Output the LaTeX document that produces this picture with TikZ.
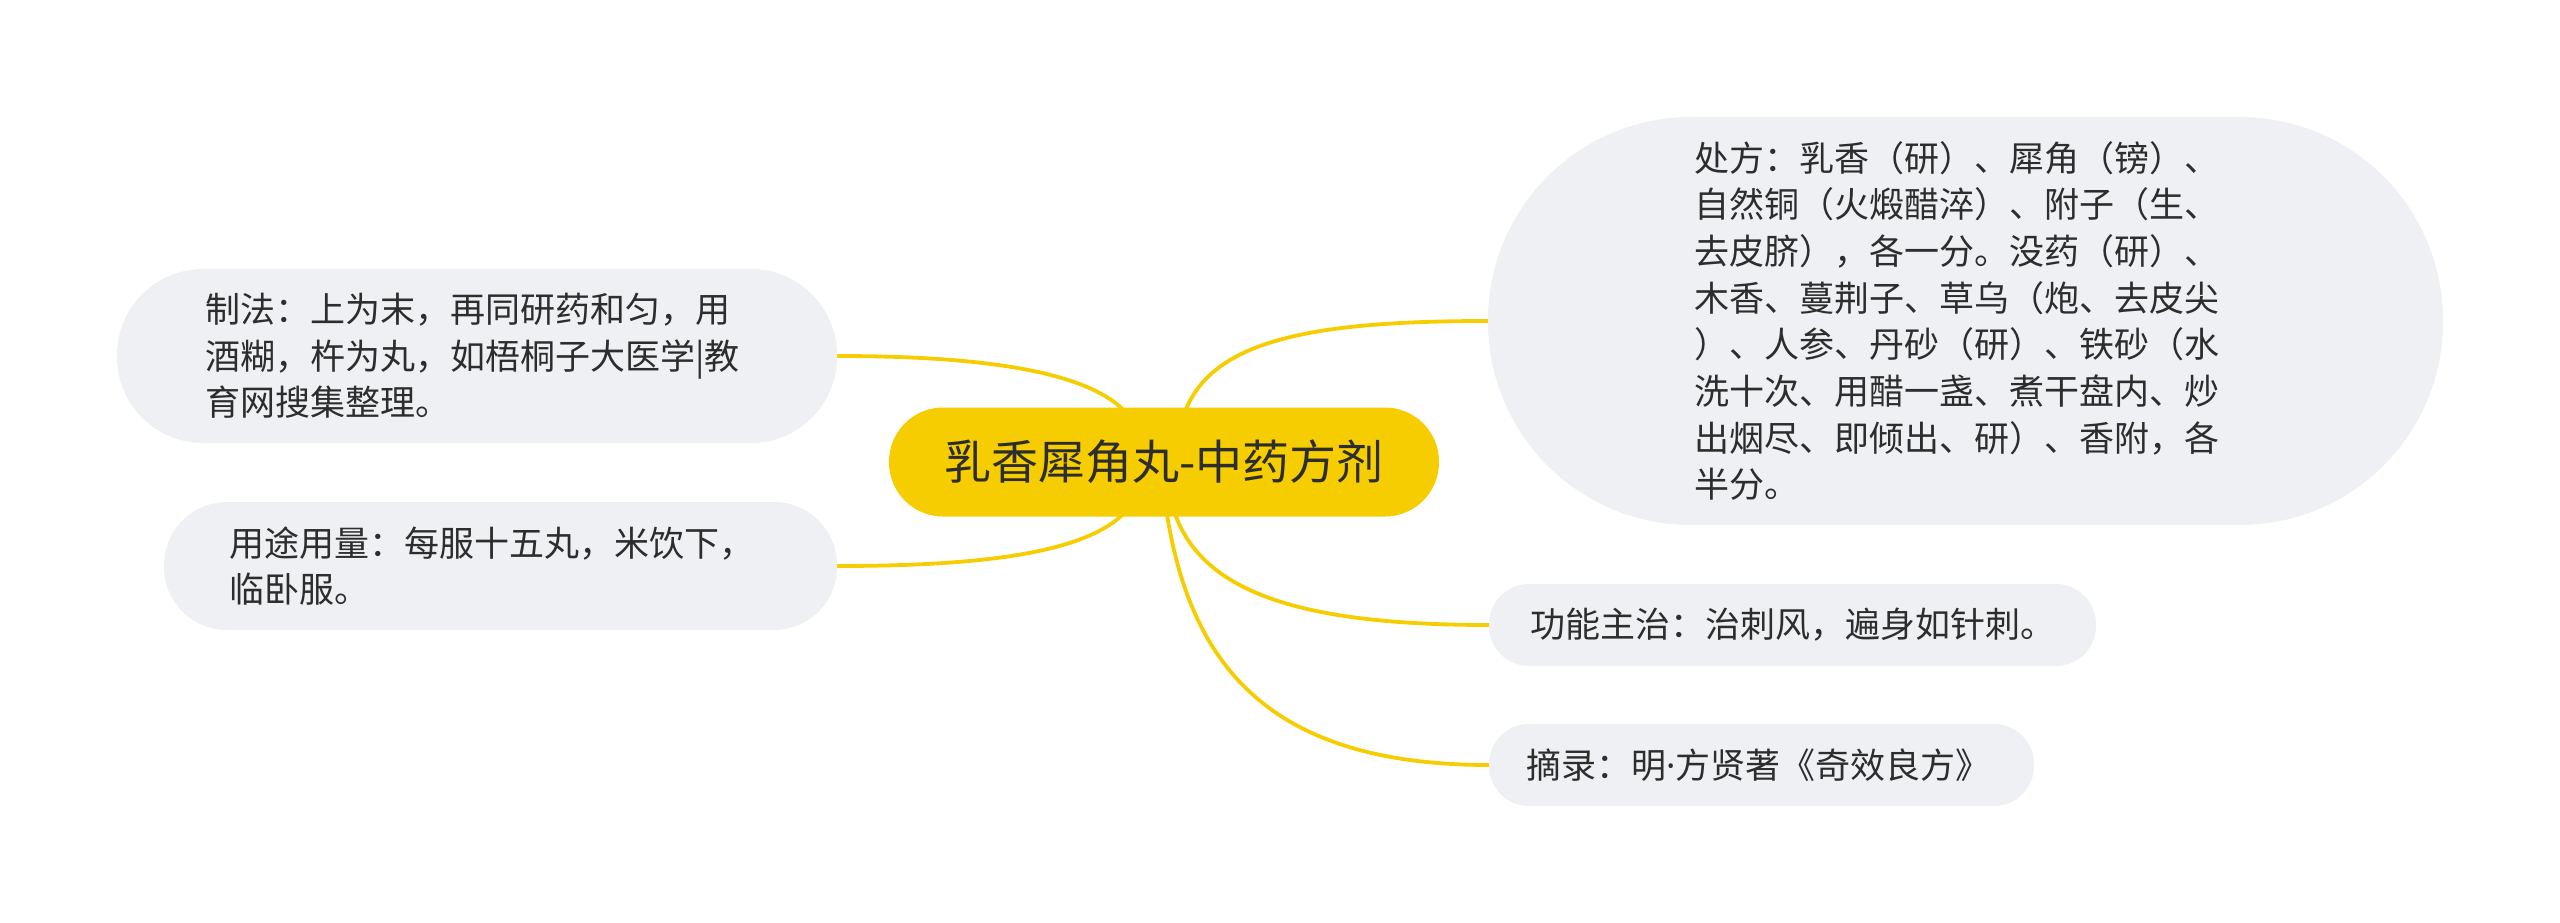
\documentclass[tikz,border=0pt]{standalone}
\usepackage{fontspec}
\setmainfont{Noto Sans CJK SC}
\newfontfamily\latinfont{Noto Sans}
\usetikzlibrary{backgrounds}
\definecolor{nodefill}{RGB}{238,240,243}
\definecolor{mainyellow}{RGB}{245,205,0}
\definecolor{txt}{RGB}{45,45,45}
\begin{document}
\begin{tikzpicture}[x=1pt,y=-1pt,
  leaf/.style={fill=nodefill, inner sep=0pt, align=left, text=txt, font=\fontsize{35}{46.7}\selectfont},
  conn/.style={draw=mainyellow, line width=3.8pt}]
\useasboundingbox (0,0) rectangle (2560,923);
\node[fill=mainyellow, minimum width=550pt, minimum height=109pt, rounded corners=54pt, inner sep=0pt, text=txt, font=\fontsize{47}{56}\selectfont] (c) at (1164,462) {乳香犀角丸-中药方剂};
\node[leaf, minimum width=720pt, minimum height=174pt, rounded corners=86pt, text width=544pt] (zf) at (477,356) {制法：上为末，再同研药和匀，用\\酒糊，杵为丸，如梧桐子大医学|教\\育网搜集整理。};
\node[leaf, minimum width=673pt, minimum height=128pt, rounded corners=63pt, text width=543pt] (yt) at (500.5,566) {用途用量：每服十五丸，米饮下，\\临卧服。};
\node[leaf, minimum width=955pt, minimum height=408pt, rounded corners=203pt, text width=543pt] (cf) at (1965.5,321) {处方：乳香（研）、犀角（镑）、\\自然铜（火煅醋淬）、附子（生、\\去皮脐），各一分。没药（研）、\\木香、蔓荆子、草乌（炮、去皮尖\\）、人参、丹砂（研）、铁砂（水\\洗十次、用醋一盏、煮干盘内、炒\\出烟尽、即倾出、研）、香附，各\\半分。};
\node[leaf, minimum width=607pt, minimum height=82pt, rounded corners=40pt, text width=525pt] (gn) at (1792.5,625) {功能主治：治刺风，遍身如针刺。};
\node[leaf, minimum width=545pt, minimum height=82pt, rounded corners=40pt, text width=470pt] (zl) at (1761.5,765) {摘录：明{\latinfont ·}方贤著《奇效良方》};
\begin{scope}[on background layer]
\coordinate (s1) at (1140,440);
\coordinate (s2) at (1140,485);
\coordinate (s3) at (1178,440);
\coordinate (s4) at (1168,485);
\coordinate (s5) at (1163,485);
\draw[conn] (s1) .. controls (1128,375) and (1000,356) .. (zf.east);
\draw[conn] (s2) .. controls (1125,550) and (1000,566) .. (yt.east);
\draw[conn] (s3) .. controls (1190,345) and (1290,321) .. (cf.west);
\draw[conn] (s4) .. controls (1182,585) and (1280,625) .. (gn.west);
\draw[conn] (s5) .. controls (1182,655) and (1258,765) .. (zl.west);
\end{scope}
\end{tikzpicture}
\end{document}
